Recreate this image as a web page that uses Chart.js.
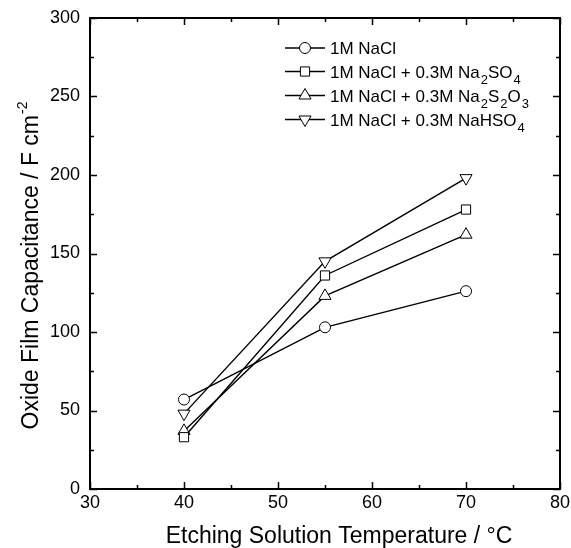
<!DOCTYPE html>
<html>
<head>
<meta charset="utf-8">
<script src="https://cdn.jsdelivr.net/npm/chart.js@4/dist/chart.umd.min.js"></script>
<style>
  html, body { margin: 0; padding: 0; background: #fff; }
  #wrap { width: 571px; height: 548px; position: relative; }
</style>
</head>
<body>
<div id="wrap"><canvas id="chart"></canvas></div>
<script>
// values
const temperatures = [40, 55, 70];
const naclOnly = [57, 103, 126];
const naclSulfate = [33, 136, 178];
const naclThiosulfate = [37, 123, 162];
const naclBisulfate = [48, 145, 198];

const xTicks = [30, 40, 50, 60, 70, 80];
const yTicks = [0, 50, 100, 150, 200, 250, 300];

// "_" marks a subscript digit
const legendLabels = [
    '1M NaCl',
    '1M NaCl + 0.3M Na_2SO_4',
    '1M NaCl + 0.3M Na_2S_2O_3',
    '1M NaCl + 0.3M NaHSO_4'
];

const FONT = '"Liberation Sans", Arial, Helvetica, sans-serif';

function series(values, style, radius, rotation) {
    return {
        data: temperatures.map((t, i) => ({ x: t, y: values[i] })),
        borderColor: '#000',
        borderWidth: 1.4,
        pointStyle: style,
        pointRadius: radius,
        pointRotation: rotation || 0,
        pointBackgroundColor: '#fff',
        pointBorderColor: '#000',
        pointBorderWidth: 1,
        tension: 0,
        fill: false
    };
}

// splits "Na_2SO_4" into normal / subscript pieces
function parseLabel(text) {
    const parts = [];
    let buf = '';
    for (let i = 0; i < text.length; i++) {
        if (text[i] === '_') {
            if (buf) parts.push({ t: buf, sub: false });
            buf = '';
            parts.push({ t: text[i + 1], sub: true });
            i++;
        } else {
            buf += text[i];
        }
    }
    if (buf) parts.push({ t: buf, sub: false });
    return parts;
}

const framePlugin = {
    id: 'frame',
    afterDatasetsDraw(chart) {
        const ctx = chart.ctx;
        const a = chart.chartArea;
        const xs = chart.scales.x;
        const ys = chart.scales.y;
        ctx.save();
        ctx.strokeStyle = '#000';
        ctx.lineWidth = 2;
        ctx.strokeRect(a.left, a.top, a.right - a.left, a.bottom - a.top);

        // inward ticks on all four sides
        ctx.lineWidth = 1.5;
        ctx.beginPath();
        for (let v = xs.min; v <= xs.max; v += 5) {
            const px = Math.round(xs.getPixelForValue(v)) + 0.5;
            const len = v % 10 === 0 ? 7 : 4;
            ctx.moveTo(px, a.bottom); ctx.lineTo(px, a.bottom - len);
            ctx.moveTo(px, a.top); ctx.lineTo(px, a.top + len);
        }
        for (let v = ys.min; v <= ys.max; v += 25) {
            const py = Math.round(ys.getPixelForValue(v)) + 0.5;
            const len = v % 50 === 0 ? 7 : 4;
            ctx.moveTo(a.left, py); ctx.lineTo(a.left + len, py);
            ctx.moveTo(a.right, py); ctx.lineTo(a.right - len, py);
        }
        ctx.stroke();
        ctx.restore();
    },
    afterDraw(chart) {
        const ctx = chart.ctx;
        const a = chart.chartArea;
        ctx.save();
        ctx.fillStyle = '#000';
        ctx.textBaseline = 'alphabetic';

        // y axis title with superscript
        ctx.save();
        ctx.translate(38, 266);
        ctx.rotate(-Math.PI / 2);
        const yMain = 'Oxide Film Capacitance / F cm';
        ctx.font = '23px ' + FONT;
        const w1 = ctx.measureText(yMain).width;
        ctx.font = '14px ' + FONT;
        const w2 = ctx.measureText('-2').width;
        const sx = -(w1 + w2) / 2;
        ctx.font = '23px ' + FONT;
        ctx.fillText(yMain, sx, 0);
        ctx.font = '14px ' + FONT;
        ctx.fillText('-2', sx + w1 + 1, -11);
        ctx.restore();

        // x axis title
        ctx.font = '23px ' + FONT;
        ctx.textAlign = 'center';
        ctx.fillText('Etching Solution Temperature / \u00B0C', 339, 543);

        // legend
        ctx.textAlign = 'left';
        const rows = [48, 71.5, 95.5, 119.5];
        chart.data.datasets.forEach((ds, i) => {
            const y = rows[i];
            const x0 = 285, x1 = 325;
            ctx.strokeStyle = '#000';
            ctx.lineWidth = 1.4;
            ctx.beginPath();
            ctx.moveTo(x0, y); ctx.lineTo(x1, y);
            ctx.stroke();
            ctx.fillStyle = '#fff';
            ctx.lineWidth = 1;
            Chart.helpers.drawPoint(ctx, {
                pointStyle: ds.pointStyle,
                radius: ds.pointRadius,
                rotation: ds.pointRotation,
                borderWidth: 1
            }, (x0 + x1) / 2, y);
            ctx.fillStyle = '#000';
            let tx = 330;
            parseLabel(legendLabels[i]).forEach(p => {
                if (p.sub) {
                    ctx.font = '13px ' + FONT;
                    ctx.fillText(p.t, tx + 1, y + 12);
                    tx += ctx.measureText(p.t).width + 1;
                } else {
                    ctx.font = '17px ' + FONT;
                    ctx.fillText(p.t, tx, y + 6);
                    tx += ctx.measureText(p.t).width;
                }
            });
        });
        ctx.restore();
    }
};

new Chart(document.getElementById('chart'), {
    type: 'line',
    data: {
        datasets: [
            series(naclOnly, 'circle', 5.5),
            series(naclSulfate, 'rect', 6.5),
            series(naclThiosulfate, 'triangle', 7),
            series(naclBisulfate, 'triangle', 7, 180)
        ]
    },
    options: {
        responsive: true,
        maintainAspectRatio: false,
        animation: false,
        devicePixelRatio: 1,
        layout: { padding: { left: 0, top: 18, right: 11, bottom: 0 } },
        plugins: {
            legend: { display: false },
            tooltip: { enabled: false }
        },
        scales: {
            x: {
                type: 'linear',
                min: 30,
                max: 80,
                afterBuildTicks: s => { s.ticks = xTicks.map(v => ({ value: v })); },
                afterFit: s => { s.height = 59; s.paddingLeft = 0; s.paddingRight = 0; },
                grid: { display: false, drawTicks: false },
                border: { display: false },
                ticks: { color: '#000', padding: 3, font: { family: FONT, size: 18 } }
            },
            y: {
                min: 0,
                max: 300,
                afterBuildTicks: s => { s.ticks = yTicks.map(v => ({ value: v })); },
                afterFit: s => { s.width = 90; s.paddingTop = 0; s.paddingBottom = 0; },
                grid: { display: false, drawTicks: false },
                border: { display: false },
                ticks: { color: '#000', padding: 10, font: { family: FONT, size: 18 } }
            }
        }
    },
    plugins: [framePlugin]
});
</script>
</body>
</html>
